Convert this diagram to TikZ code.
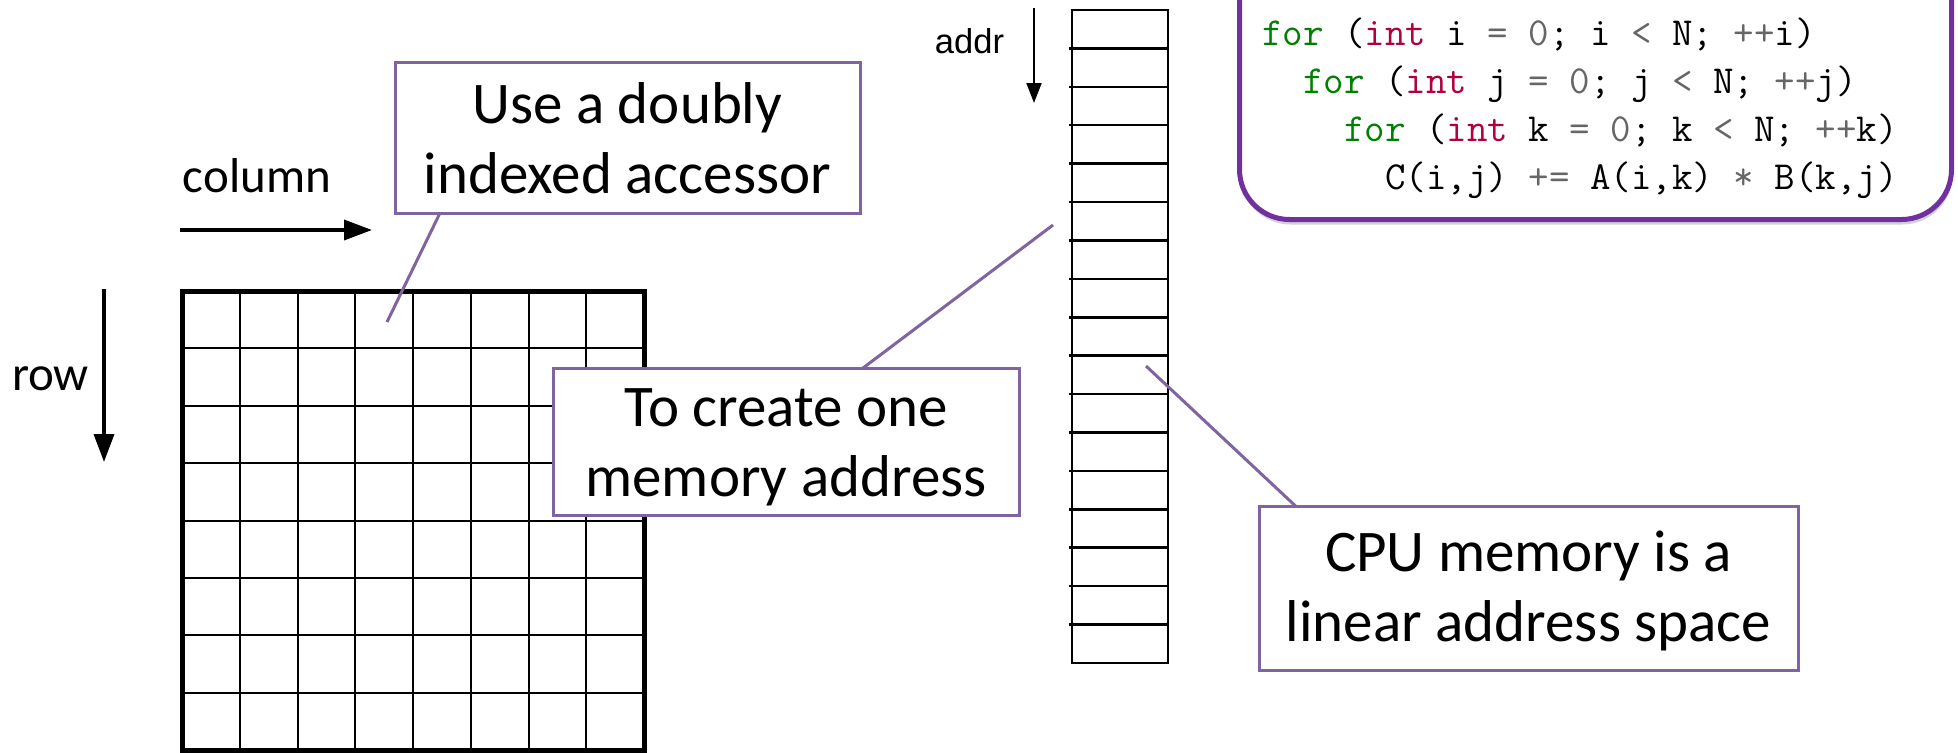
\documentclass[tikz,border=0pt]{standalone}
\usepackage{fontspec}
\setmainfont{Carlito}
\newfontfamily\arialfont{Liberation Sans}
\setmonofont{Latin Modern Mono}
\usetikzlibrary{arrows.meta,shadows}
\definecolor{lblpurple}{HTML}{8064A2}
\definecolor{codepurple}{HTML}{7030A0}
\definecolor{kwgreen}{HTML}{008000}
\definecolor{kwtype}{HTML}{B00040}
\definecolor{opgray}{HTML}{666666}
\newcommand\cgr[1]{\textcolor{kwgreen}{#1}}
\newcommand\cty[1]{\textcolor{kwtype}{#1}}
\newcommand\cop[1]{\textcolor{opgray}{#1}}
\begin{document}
\begin{tikzpicture}[x=1pt,y=-1pt,
  lblbox/.style={draw=lblpurple, line width=3pt, fill=white, inner sep=0pt, outer sep=0pt, align=center, font=\fontsize{59}{70}\selectfont},
  conn/.style={draw=lblpurple, line width=3pt},
  axislbl/.style={font=\fontsize{49}{58}\selectfont, anchor=base, inner sep=0pt},
  bigarrow/.style={line width=3.5pt, -{Triangle[length=28pt,width=20pt]}},
  smallarrow/.style={line width=2pt, -{Triangle[length=20pt,width=15pt]}},
  gridthin/.style={line width=2pt},
  gridthick/.style={line width=5pt},
  memline/.style={line width=2.5pt},
  codeline/.style={anchor=base west, inner sep=0pt, font=\ttfamily\fontsize{39.8}{48}\selectfont},
  codebox/.style={draw=codepurple, line width=5pt, fill=white, rounded corners=50pt, inner sep=0pt,
    drop shadow={shadow xshift=1pt, shadow yshift=-5pt, opacity=0.35}},
]
\useasboundingbox (0,0) rectangle (1958,752);
\fill[white] (0,0) rectangle (1958,752);

% matrix grid
\foreach \i in {1,...,7} \draw[gridthin] ({182+57.75*\i},291) -- ({182+57.75*\i},750);
\foreach \i in {1,...,7} \draw[gridthin] (182,{291+57.375*\i}) -- (644,{291+57.375*\i});
\draw[gridthick] (182,291) rectangle (644,750);

% linear memory
\foreach \i in {1,...,16} \draw[memline] (1069,{10+38.41*\i}) -- (1168,{10+38.41*\i});
\draw[memline] (1072,10) rectangle (1168,663);

% axis arrows
\coordinate (colA) at (180,230); \coordinate (colB) at (372,230);
\draw[bigarrow] (colA) -- (colB);
\coordinate (rowA) at (104,289); \coordinate (rowB) at (104,462);
\draw[bigarrow] (rowA) -- (rowB);
\coordinate (addrA) at (1034,8); \coordinate (addrB) at (1034,103);
\draw[smallarrow] (addrA) -- (addrB);

% axis labels
\node[axislbl] (collbl) at (257,192) {column};
\node[axislbl] (rowlbl) at (50.5,390) {row};
\node[axislbl, font=\arialfont\fontsize{34.5}{40}\selectfont] (addrlbl) at (969.5,53) {addr};

% callout boxes
\coordinate (p1) at (387,322);
\coordinate (p2) at (1053,225);
\coordinate (p3) at (1146,366);
\node[lblbox, minimum width=465pt, minimum height=150pt] (box1) at (627.5,138) {Use a doubly\\indexed accessor};
\node[lblbox, minimum width=466pt, minimum height=147pt] (box2) at (786,441.5) {\rule{0pt}{50pt}To create one\\memory address};
\node[lblbox, minimum width=539pt, minimum height=164pt] (box3) at (1528.5,588) {\rule{0pt}{46pt}CPU memory is a\\linear address space};
\draw[conn] ([xshift=45pt]box1.south west) -- (p1);
\draw[conn] ([xshift=310pt]box2.north west) -- (p2);
\draw[conn] ([xshift=36.5pt]box3.north west) -- (p3);

% code box
\node[codebox, minimum width=712pt, minimum height=330pt, anchor=south west] (code) at (1237,222) {};
\node[codeline] (c1) at (1262,45.5) {\cgr{for} (\cty{int} i \cop{=} \cop{0}; i \cop{<} N; \cop{++}i)};
\node[codeline] (c2) at (1262,93.5) {\phantom{xx}\cgr{for} (\cty{int} j \cop{=} \cop{0}; j \cop{<} N; \cop{++}j)};
\node[codeline] (c3) at (1262,141.5) {\phantom{xxxx}\cgr{for} (\cty{int} k \cop{=} \cop{0}; k \cop{<} N; \cop{++}k)};
\node[codeline] (c4) at (1262,189.5) {\phantom{xxxxxx}C(i,j) \cop{+=} A(i,k) \cop{*} B(k,j)};
\end{tikzpicture}
\end{document}
